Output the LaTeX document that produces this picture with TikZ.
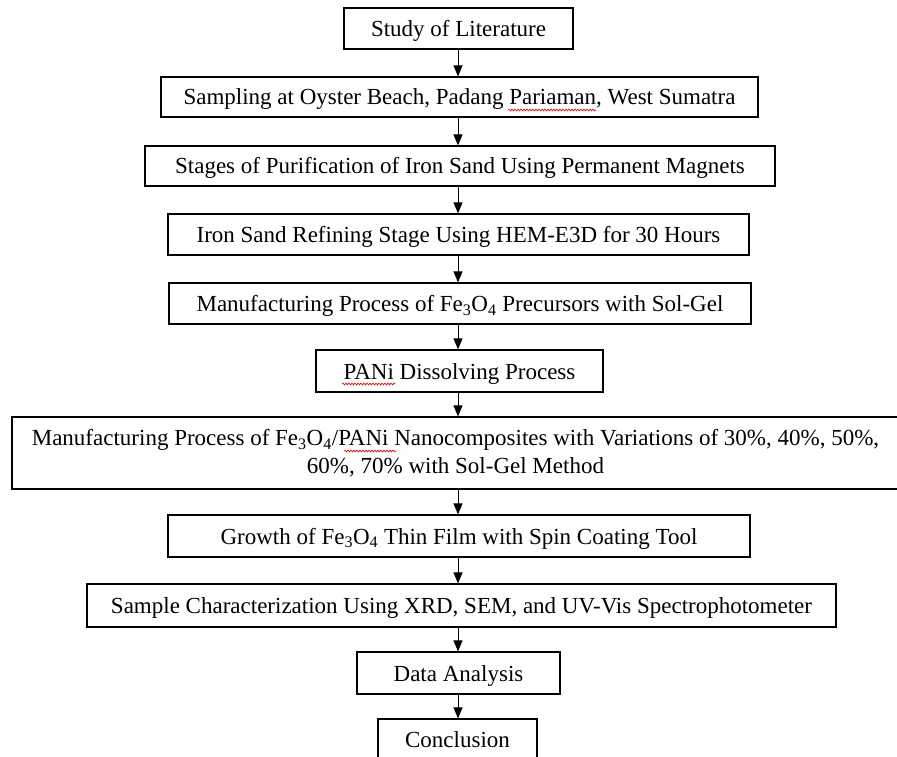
\documentclass[tikz,border=0pt]{standalone}
\usepackage{fontspec}
\setmainfont{Liberation Serif}
\usetikzlibrary{arrows.meta,decorations.pathmorphing}

\begin{document}
\begin{tikzpicture}[x=1pt,y=-1pt,
    box/.style={draw, line width=1.2pt, inner sep=0pt, align=center,
                font=\fontsize{23}{28}\selectfont},
    stage/.style={box, text height=18pt, text depth=2pt},
    flow/.style={line width=0.9pt, -{Triangle[width=9pt,length=11pt]}},
    spell/.style={red, line width=0.6pt, decorate,
                  decoration={snake, amplitude=1pt, segment length=3pt}}]

    \useasboundingbox (0,0) rectangle (897,757);

    % the stages, top to bottom
    \node[stage, minimum width=229, minimum height=41] (lit)    at (458.5,28.5)  {Study of Literature};
    \node[stage, minimum width=597, minimum height=40] (samp)   at (459.5,97)    {Sampling at Oyster Beach, Padang Pariaman, West Sumatra};
    \node[stage, minimum width=630, minimum height=40] (purif)  at (460,166)     {Stages of Purification of Iron Sand Using Permanent Magnets};
    \node[stage, minimum width=581, minimum height=41] (refine) at (458.5,234.5) {Iron Sand Refining Stage Using HEM-E3D for 30 Hours};
    \node[stage, minimum width=582, minimum height=41] (prec)   at (460,303.5)   {Manufacturing Process of Fe\textsubscript{3}O\textsubscript{4} Precursors with Sol-Gel};
    \node[stage, minimum width=287, minimum height=42] (pani)   at (459.5,371)   {PANi Dissolving Process};
    \node[box,   minimum width=887, minimum height=72] (nano)   at (455.5,453)   {Manufacturing Process of Fe\textsubscript{3}O\textsubscript{4}/PANi Nanocomposites with Variations of 30\%, 40\%, 50\%,\\60\%, 70\% with Sol-Gel Method};
    \node[stage, minimum width=582, minimum height=42] (film)   at (459,536)     {Growth of Fe\textsubscript{3}O\textsubscript{4} Thin Film with Spin Coating Tool};
    \node[stage, minimum width=749, minimum height=43] (charac) at (461.5,605.5) {Sample Characterization Using XRD, SEM, and UV-Vis Spectrophotometer};
    \node[stage, minimum width=203, minimum height=42] (data)   at (458.5,673)   {Data Analysis};
    \node[stage, minimum width=159, minimum height=41] (concl)  at (457.5,739.5) {Conclusion};

    % arrows all run down one line
    \coordinate (axis) at (458,0);
    \draw[flow] (axis |- lit.south)    -- (axis |- samp.north);
    \draw[flow] (axis |- samp.south)   -- (axis |- purif.north);
    \draw[flow] (axis |- purif.south)  -- (axis |- refine.north);
    \draw[flow] (axis |- refine.south) -- (axis |- prec.north);
    \draw[flow] (axis |- prec.south)   -- (axis |- pani.north);
    \draw[flow] (axis |- pani.south)   -- (axis |- nano.north);
    \draw[flow] (axis |- nano.south)   -- (axis |- film.north);
    \draw[flow] (axis |- film.south)   -- (axis |- charac.north);
    \draw[flow] (axis |- charac.south) -- (axis |- data.north);
    \draw[flow] (axis |- data.south)   -- (axis |- concl.north);

    % spell-check waves
    \draw[spell] (508,110) -- (596,110);
    \draw[spell] (342,384) -- (395,384);
    \draw[spell] (344,451) -- (396,451);

\end{tikzpicture}
\end{document}
